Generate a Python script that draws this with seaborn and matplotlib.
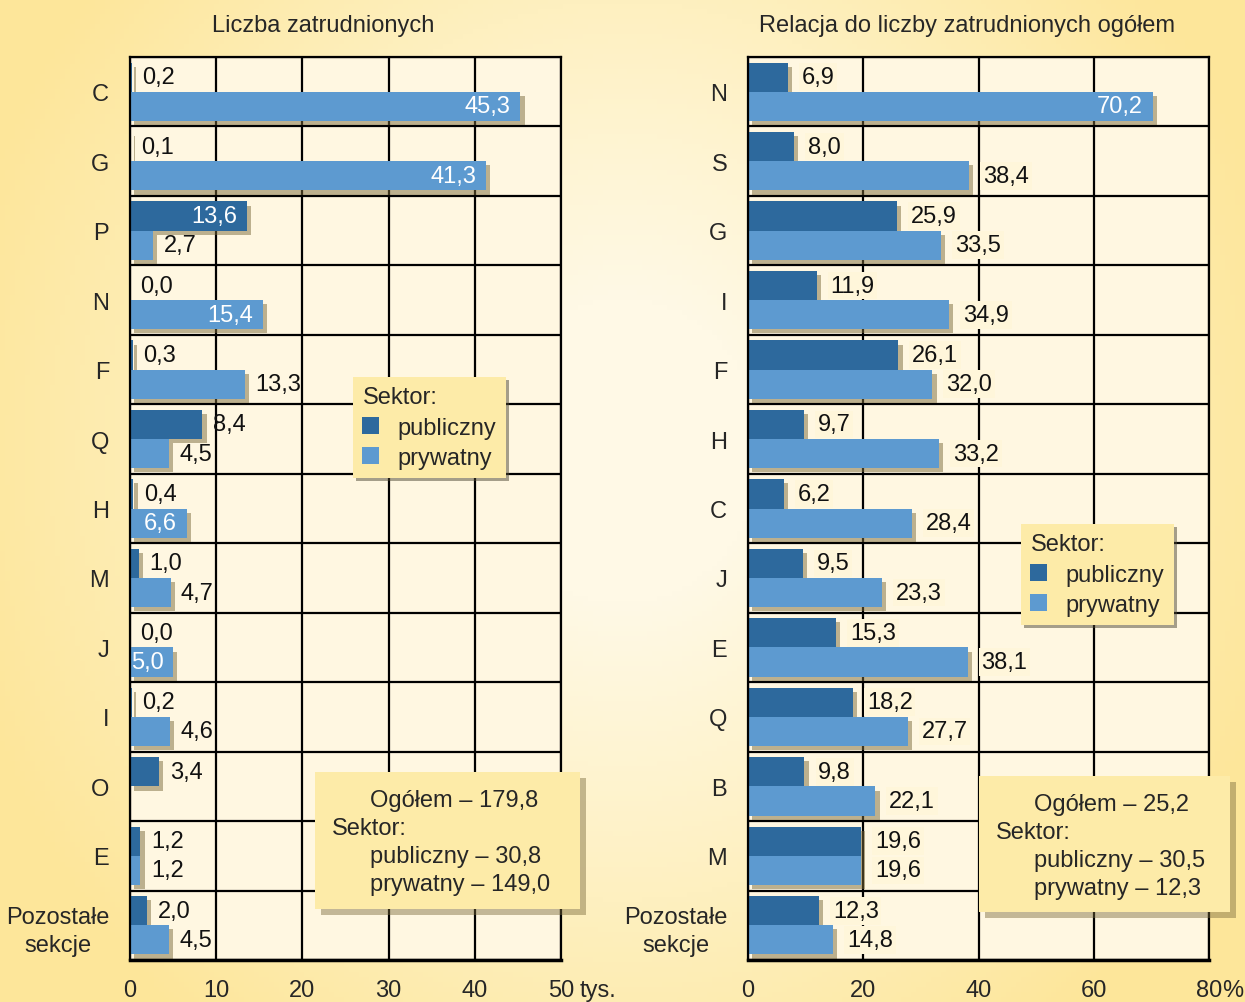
import numpy as np
import pandas as pd
import matplotlib
matplotlib.use("Agg")
import matplotlib.pyplot as plt
import matplotlib.patheffects as pe
from matplotlib.colors import LinearSegmentedColormap
from matplotlib.patches import Rectangle
import seaborn as sns

# ---- data ----
sectors = ["publiczny", "prywatny"]

cats_left = ["C", "G", "P", "N", "F", "Q", "H", "M", "J", "I", "O", "E", "Pozostałe\nsekcje"]
public_left = [0.2, 0.1, 13.6, 0.0, 0.3, 8.4, 0.4, 1.0, 0.0, 0.2, 3.4, 1.2, 2.0]
private_left = [45.3, 41.3, 2.7, 15.4, 13.3, 4.5, 6.6, 4.7, 5.0, 4.6, np.nan, 1.2, 4.5]
ticks_left = [0, 10, 20, 30, 40, 50]
totals_left = [179.8, 30.8, 149.0]   # ogółem, publiczny, prywatny

cats_right = ["N", "S", "G", "I", "F", "H", "C", "J", "E", "Q", "B", "M", "Pozostałe\nsekcje"]
public_right = [6.9, 8.0, 25.9, 11.9, 26.1, 9.7, 6.2, 9.5, 15.3, 18.2, 9.8, 19.6, 12.3]
private_right = [70.2, 38.4, 33.5, 34.9, 32.0, 33.2, 28.4, 23.3, 38.1, 27.7, 22.1, 19.6, 14.8]
ticks_right = [0, 20, 40, 60, 80]
totals_right = [25.2, 30.5, 12.3]

# labels drawn in white inside the bar
inside_left = {("C", "prywatny"), ("G", "prywatny"), ("P", "publiczny"),
               ("N", "prywatny"), ("H", "prywatny"), ("J", "prywatny")}
inside_right = {("N", "prywatny")}

palette = {"publiczny": "#2D699D", "prywatny": "#5D9AD0"}

sns.set_style("white")
plt.rcParams["font.family"] = ["Liberation Sans", "DejaVu Sans"]
plt.rcParams["font.size"] = 17

W, H = 1245, 1003
fig = plt.figure(figsize=(W / 100, H / 100), dpi=100)

# background gradient
bg = fig.add_axes([0, 0, 1, 1], zorder=-10)
yy, xx = np.mgrid[0:1:200j, 0:1:250j]
d = np.sqrt(((xx - 0.5) / 0.55) ** 2 + ((yy - 0.45) / 0.75) ** 2)
cmap_bg = LinearSegmentedColormap.from_list("bg", ["#FFF9E6", "#FEF0C0", "#FDE69A"])
bg.imshow(d, cmap=cmap_bg, aspect="auto", extent=[0, 1, 0, 1], vmin=0.2, vmax=1.0)
bg.axis("off")


def fmt(v):
    return f"{v:.1f}".replace(".", ",")


def panel(rect, cats, pub, priv, ticks, inside, offset, boxed, unit, unit_off):
    ax = fig.add_axes(rect)
    df = pd.DataFrame({
        "sekcja": cats * 2,
        "sektor": [sectors[0]] * len(cats) + [sectors[1]] * len(cats),
        "wartosc": pub + priv,
    })
    sns.barplot(data=df, y="sekcja", x="wartosc", hue="sektor", hue_order=sectors,
                order=cats, palette=palette, orient="h", width=0.84, errorbar=None,
                saturation=1, linewidth=0, ax=ax)
    ax.set_facecolor("#FFF7E1")
    ax.set_axisbelow(True)
    shadow = [pe.SimplePatchShadow(offset=(3, -3), shadow_rgbFace="#7a6a3c", alpha=0.5),
              pe.Normal()]
    for sector, cont in zip(sectors, ax.containers):
        for p in cont.patches:
            w = p.get_width()
            if np.isnan(w):
                continue
            p.set_path_effects(shadow)
            yc = p.get_y() + p.get_height() / 2
            cat = cats[int(round(yc))].split("\n")[0]
            if (cat, sector) in inside:
                ax.annotate(fmt(w), xy=(w, yc), xytext=(-7, 0), textcoords="offset points",
                            ha="right", va="center", color="white", fontsize=17)
            else:
                kw = {}
                if boxed:
                    kw["bbox"] = dict(boxstyle="square,pad=0.12", fc="#FFF6DA", ec="none")
                ax.annotate(fmt(w), xy=(w, yc), xytext=(offset, 0), textcoords="offset points",
                            ha="left", va="center", color="#111111", fontsize=17, **kw)
    ax.set_xlim(ticks[0], ticks[-1])
    ax.set_ylim(len(cats) - 0.5, -0.5)
    ax.set_xticks(ticks)
    ax.set_xticklabels([str(t) for t in ticks])
    ax.set_yticks(np.arange(-0.5, len(cats)), minor=True)
    ax.grid(True, which="major", axis="x", color="black", lw=1.6)
    ax.grid(True, which="minor", axis="y", color="black", lw=1.6)
    ax.tick_params(axis="y", which="both", length=0, pad=15, labelsize=17)
    ax.tick_params(axis="x", length=7, width=1.8, direction="out", pad=7,
                   labelsize=17, color="black")
    for lbl in ax.get_yticklabels():
        lbl.set_multialignment("center")
        lbl.set_linespacing(1.35)
    for s in ax.spines.values():
        s.set_color("black")
        s.set_linewidth(1.6)
    ax.spines["bottom"].set_linewidth(2.5)
    ax.set_xlabel("")
    ax.set_ylabel("")
    ax.annotate(unit, xy=(ticks[-1], 0), xycoords=("data", "axes fraction"),
                xytext=(unit_off, -14), textcoords="offset points", ha="left", va="top",
                fontsize=17, annotation_clip=False)
    if ax.get_legend() is not None:
        ax.get_legend().remove()
    return ax


def fx(px):
    return px / W


def fy(py):
    return 1 - py / H


axL = panel([fx(130), fy(961), fx(561 - 130), (961 - 58) / H], cats_left, public_left,
            private_left, ticks_left, inside_left, 7.5, False, "tys.", 13.5)
axR = panel([fx(748), fy(961), fx(1209 - 748), (961 - 58) / H], cats_right, public_right,
            private_right, ticks_right, inside_right, 10, True, "%", 9.3)

fig.text(fx(323), fy(26), "Liczba zatrudnionych", ha="center", va="center", fontsize=17)
fig.text(fx(967), fy(26), "Relacja do liczby zatrudnionych ogółem", ha="center",
         va="center", fontsize=17)

# legends
for ax, (lx, ly) in [(axL, (353, 378)), (axR, (1021, 525))]:
    handles, labels = ax.get_legend_handles_labels()
    leg = ax.legend(handles[:2], labels[:2], title="Sektor:", loc="upper left",
                    bbox_to_anchor=(fx(lx), fy(ly)), bbox_transform=fig.transFigure,
                    borderaxespad=0, fontsize=17, title_fontsize=17, alignment="left",
                    handlelength=0.7, handleheight=0.7, handletextpad=0.8,
                    labelspacing=0.35, borderpad=0.4, fancybox=False, shadow=True,
                    facecolor="#FDEBA8", edgecolor="none", framealpha=1)
    leg.get_frame().set_linewidth(0)

# summary boxes
for (x0, y0, x1, y1), tot in [((315, 773, 580, 910), totals_left),
                              ((979, 777, 1230, 913), totals_right)]:
    box = Rectangle((fx(x0), fy(y1)), fx(x1 - x0), (y1 - y0) / H, transform=fig.transFigure,
                    fc="#FDEBA8", ec="none", zorder=5)
    box.set_path_effects([pe.SimplePatchShadow(offset=(4, -4), shadow_rgbFace="#7a6a3c",
                                               alpha=0.45), pe.Normal()])
    fig.add_artist(box)
    ind = x0 + 55
    lines = [(ind, f"Ogółem – {fmt(tot[0])}"), (x0 + 17, "Sektor:"),
             (ind, f"publiczny – {fmt(tot[1])}"), (ind, f"prywatny – {fmt(tot[2])}")]
    for i, (tx, s) in enumerate(lines):
        fig.text(fx(tx), fy(y0 + 28 + 28 * i), s, ha="left", va="center", fontsize=17,
                 zorder=6)

fig.savefig("out.png", dpi=100)
